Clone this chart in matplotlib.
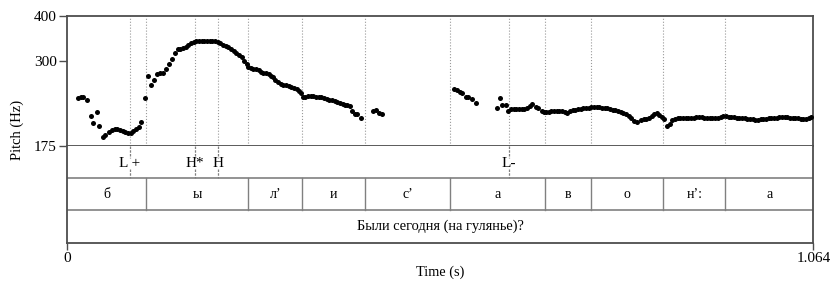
import matplotlib
matplotlib.use("Agg")
import matplotlib.pyplot as plt
from matplotlib.ticker import NullLocator, FixedLocator

plt.rcParams['font.family'] = ['Liberation Serif', 'DejaVu Serif']

t_end = 1.064

# pitch track (time in s, F0 in Hz)
pitch_t = [0.0165, 0.0204, 0.0237, 0.0294, 0.0342, 0.0379, 0.0428, 0.0465, 0.0513, 0.0550,
           0.0607, 0.0646, 0.0684, 0.0721, 0.0760, 0.0798, 0.0835, 0.0874, 0.0912, 0.0949,
           0.0988, 0.1026, 0.1063, 0.1120, 0.1163, 0.1201, 0.1240, 0.1291, 0.1330, 0.1372,
           0.1415, 0.1454, 0.1496, 0.1543, 0.1582, 0.1619, 0.1657, 0.1696, 0.1733, 0.1771,
           0.1810, 0.1847, 0.1885, 0.1924, 0.1961, 0.1999, 0.2038, 0.2075, 0.2113, 0.2152,
           0.2189, 0.2227, 0.2266, 0.2303, 0.2341, 0.2380, 0.2417, 0.2455, 0.2494, 0.2531,
           0.2565, 0.2584, 0.2622, 0.2659, 0.2698, 0.2736, 0.2765, 0.2802, 0.2840, 0.2879,
           0.2916, 0.2944, 0.2973, 0.3011, 0.3050, 0.3087, 0.3125, 0.3164, 0.3201, 0.3239,
           0.3278, 0.3315, 0.3343, 0.3363, 0.3400, 0.3439, 0.3477, 0.3514, 0.3553, 0.3591,
           0.3628, 0.3667, 0.3705, 0.3742, 0.3781, 0.3819, 0.3856, 0.3895, 0.3933, 0.3970,
           0.3999, 0.4037, 0.4066, 0.4104, 0.4141, 0.4190,
           0.4369, 0.4407, 0.4450, 0.4489,
           0.5524, 0.5562, 0.5601, 0.5638, 0.5686, 0.5723, 0.5772, 0.5829,
           0.6132, 0.6175, 0.6208, 0.6256, 0.6293, 0.6332, 0.6370, 0.6407, 0.6446, 0.6484,
           0.6521, 0.6560, 0.6598, 0.6635, 0.6684, 0.6721, 0.6769, 0.6806, 0.6831, 0.6869,
           0.6906, 0.6945, 0.6983, 0.7020, 0.7059, 0.7097, 0.7134, 0.7172, 0.7211, 0.7248,
           0.7286, 0.7325, 0.7362, 0.7401, 0.7439, 0.7476, 0.7515, 0.7553, 0.7590, 0.7629,
           0.7667, 0.7704, 0.7743, 0.7781, 0.7818, 0.7857, 0.7895, 0.7932, 0.7971, 0.8009,
           0.8046, 0.8085, 0.8123, 0.8184, 0.8223, 0.8260, 0.8298, 0.8337, 0.8374, 0.8412,
           0.8441, 0.8479, 0.8516, 0.8555, 0.8593, 0.8631, 0.8669, 0.8708, 0.8745, 0.8783,
           0.8821, 0.8858, 0.8897, 0.8935, 0.8972, 0.9011, 0.9049, 0.9086, 0.9125, 0.9164,
           0.9200, 0.9239, 0.9277, 0.9320, 0.9357, 0.9396, 0.9434, 0.9471, 0.9510, 0.9548,
           0.9585, 0.9624, 0.9662, 0.9699, 0.9738, 0.9776, 0.9813, 0.9852, 0.9890, 0.9927,
           0.9966, 1.0004, 1.0041, 1.0080, 1.0118, 1.0155, 1.0194, 1.0232, 1.0269, 1.0308,
           1.0346, 1.0383, 1.0422, 1.0460, 1.0497, 1.0536, 1.0574, 1.0611]
pitch_hz = [237.7, 238.8, 239.2, 234.3, 211.7, 202.1, 216.7, 198.7, 185.6, 187.3,
            191.6, 194.1, 194.6, 195.0, 194.1, 192.9, 191.6, 190.1, 190.4, 192.5,
            194.6, 197.1, 203.4, 237.7, 272.9, 257.7, 266.0, 276.9, 277.6, 277.6,
            284.8, 294.4, 303.4, 315.2, 323.3, 324.5, 325.3, 328.6, 332.2, 336.5,
            339.2, 340.7, 340.7, 340.7, 340.7, 340.7, 340.7, 340.7, 340.7, 338.5,
            335.8, 332.8, 330.1, 327.4, 323.9, 320.4, 316.4, 311.8, 307.4, 300.7,
            294.4, 288.3, 287.0, 285.8, 284.8, 282.9, 280.5, 278.8, 277.6, 275.9,
            273.4, 270.7, 266.0, 262.1, 259.8, 258.2, 257.2, 255.6, 254.0, 252.4,
            250.8, 248.1, 244.5, 239.2, 239.2, 240.3, 239.8, 239.8, 239.2, 239.2,
            238.8, 237.7, 236.2, 234.7, 233.8, 232.8, 231.4, 230.3, 228.9, 227.5,
            226.6, 225.2, 218.5, 214.4, 214.0, 208.6,
            218.5, 219.5, 215.4, 214.8,
            251.3, 250.2, 246.1, 245.5, 239.2, 238.3, 236.2, 229.5,
            222.2, 237.2, 226.6, 226.6, 218.1, 220.9, 221.3, 221.3, 221.3, 220.9,
            221.3, 223.1, 225.6, 228.0, 224.6, 222.2, 218.1, 216.7, 216.7, 217.1,
            218.1, 218.1, 218.1, 218.9, 218.1, 217.1, 215.8, 218.1, 219.5, 220.3,
            220.9, 221.7, 222.2, 222.7, 223.1, 223.7, 223.7, 223.7, 223.7, 223.1,
            222.7, 222.2, 221.3, 220.3, 219.5, 218.1, 216.7, 215.4, 214.0, 212.1,
            209.4, 205.5, 204.2, 206.8, 207.3, 207.7, 208.6, 211.7, 214.8, 215.4,
            213.1, 210.4, 208.1, 198.7, 200.9, 206.5, 208.1, 208.6, 208.6, 208.6,
            208.6, 209.0, 209.4, 209.4, 209.9, 210.4, 209.9, 209.4, 209.4, 209.4,
            209.4, 209.4, 209.4, 210.8, 211.3, 211.3, 210.8, 210.4, 209.9, 209.4,
            209.4, 209.0, 208.6, 208.1, 207.7, 207.3, 206.8, 206.8, 207.3, 207.7,
            208.1, 208.6, 209.0, 209.4, 209.4, 209.9, 209.9, 209.9, 209.9, 209.4,
            209.4, 209.0, 208.6, 208.1, 207.7, 208.1, 209.0, 209.9]

# tone tier (points)
tone_times = [0.0898, 0.1828, 0.2152, 0.6303]
tone_labels = ["L +", "H*", "H", "L-"]

# segment tier (intervals)
seg_bounds = [0.0, 0.1134, 0.2588, 0.3358, 0.4251, 0.5463, 0.6823, 0.7468, 0.8502, 0.9386, 1.064]
seg_labels = ["б", "ы", "л’", "и", "с’", "а", "в", "о", "н’:", "а"]

sentence = "Были сегодня (на гулянье)?"

fig = plt.figure(figsize=(8.32, 2.81), dpi=100)
W, H = 832.0, 281.0
x0, x1 = 66.7, 813.3
y_top, y_pitch, y_bot = 15.7, 146.0, 242.7

frame_c = "#4d4d4d"
line_c = "#808080"

ax = fig.add_axes([x0 / W, 1 - y_pitch / H, (x1 - x0) / W, (y_pitch - y_top) / H])
ax.set_yscale("log")
ax.set_xlim(0, t_end)
ax.set_ylim(175, 400)
ax.yaxis.set_major_locator(FixedLocator([175, 300, 400]))
ax.yaxis.set_minor_locator(NullLocator())
ax.set_yticklabels(["175", "300", "400"])
ax.set_xticks([])
ax.tick_params(axis="y", length=6, width=1, color=frame_c, labelsize=11, pad=1)
for s in ax.spines.values():
    s.set_color(frame_c)
    s.set_linewidth(1.3)

for t in seg_bounds[1:-1] + tone_times:
    ax.axvline(t, color="#9a9a9a", ls=":", lw=0.8, zorder=1)
ax.plot(pitch_t, pitch_hz, "o", color="black", ms=3.6, mec="none", zorder=3)

tx = fig.add_axes([x0 / W, 1 - y_bot / H, (x1 - x0) / W, (y_bot - y_pitch) / H])
tx.set_xlim(0, t_end)
tx.set_ylim(0, 3)
tx.set_yticks([])
tx.set_xticks([0, t_end])
tx.set_xticklabels(["0", "1.064"])
tx.tick_params(axis="x", length=5, width=1, color=frame_c, labelsize=11, pad=2)
for s in tx.spines.values():
    s.set_color(frame_c)
    s.set_linewidth(1.3)
tx.spines["top"].set_visible(False)
tx.axhline(2, color=line_c, lw=1.2)
tx.axhline(1, color=line_c, lw=1.2)

for t, lab in zip(tone_times, tone_labels):
    tx.plot([t, t], [3, 2.62], color=line_c, lw=0.9, ls=(0, (2, 1)))
    tx.plot([t, t], [2.28, 2], color=line_c, lw=0.9, ls=(0, (2, 1)))
    tx.text(t, 2.47, lab, ha="center", va="center", fontsize=11)

for b in seg_bounds[1:-1]:
    tx.plot([b, b], [1, 2], color=line_c, lw=1.0)
for a, b, lab in zip(seg_bounds[:-1], seg_bounds[1:], seg_labels):
    tx.text((a + b) / 2, 1.5, lab, ha="center", va="center", fontsize=10)

tx.text(t_end / 2, 0.5, sentence, ha="center", va="center", fontsize=10.4)

fig.text(17 / W, 1 - 130 / H, "Pitch (Hz)", rotation=90, ha="center", va="center", fontsize=10.5)
fig.text((x0 + x1) / 2 / W, 1 - 272 / H, "Time (s)", ha="center", va="center", fontsize=10.3)

fig.savefig("out.png", dpi=100)
